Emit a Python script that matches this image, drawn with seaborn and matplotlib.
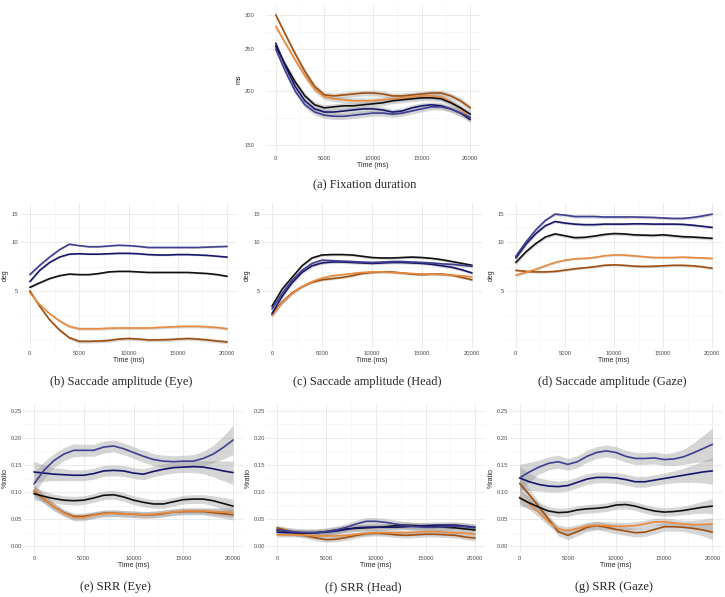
import numpy as np
import pandas as pd
import matplotlib
matplotlib.use("Agg")
import matplotlib.pyplot as plt
import seaborn as sns
from matplotlib.ticker import FixedLocator

# time axis (ms)
TIME = [0, 1000, 2000, 3000, 4000, 5000, 6000, 7000, 8000, 9000, 10000,
        11000, 12000, 13000, 14000, 15000, 16000, 17000, 18000, 19000, 20000]
GROUPS = ["g1", "g2", "g3", "g4", "g5"]
COLORS = ["#a34f0c", "#ea8a3d", "#111111", "#16166c", "#3e3e93"]

# (a) fixation duration (ms)
fix_g1 = [300, 270, 244, 222, 205, 196, 195, 196, 197, 198, 198, 197, 195, 195, 196, 197, 198, 198, 195, 190, 183]
fix_g2 = [282, 258, 236, 217, 202, 194, 192, 191, 190, 190, 190, 191, 192, 193, 194, 195, 195, 194, 189, 182, 173]
fix_g3 = [254, 230, 210, 195, 186, 183, 184, 185, 185, 186, 187, 188, 190, 191, 192, 193, 193, 192, 188, 183, 177]
fix_g4 = [258, 228, 205, 190, 182, 179, 179, 180, 181, 182, 182, 181, 179, 180, 183, 185, 186, 185, 182, 178, 172]
fix_g5 = [250, 222, 200, 186, 179, 176, 175, 175, 176, 177, 178, 178, 177, 178, 180, 182, 184, 184, 182, 178, 174]
fix_se = [3, 3, 3, 3, 3]

# (b) saccade amplitude, eye (deg)
sae_g1 = [5.0, 4.0, 3.3, 2.85, 2.55, 2.42, 2.42, 2.43, 2.45, 2.5, 2.52, 2.5, 2.47, 2.47, 2.48, 2.5, 2.52, 2.5, 2.47, 2.43, 2.4]
sae_g2 = [4.85, 4.1, 3.6, 3.25, 3.0, 2.9, 2.9, 2.9, 2.92, 2.93, 2.93, 2.93, 2.93, 2.95, 2.97, 2.99, 3.0, 3.0, 2.98, 2.95, 2.9]
sae_g3 = [5.25, 5.6, 5.95, 6.2, 6.35, 6.3, 6.3, 6.4, 6.55, 6.6, 6.6, 6.55, 6.5, 6.5, 6.5, 6.5, 6.5, 6.45, 6.4, 6.3, 6.15]
sae_g4 = [5.7, 6.7, 7.5, 8.1, 8.45, 8.5, 8.45, 8.45, 8.5, 8.55, 8.55, 8.5, 8.4, 8.35, 8.35, 8.4, 8.4, 8.35, 8.3, 8.2, 8.1]
sae_g5 = [6.3, 7.2, 8.1, 9.0, 9.75, 9.55, 9.4, 9.4, 9.5, 9.6, 9.55, 9.45, 9.3, 9.3, 9.3, 9.3, 9.3, 9.3, 9.35, 9.4, 9.45]
sae_se = [0.06, 0.06, 0.08, 0.1, 0.12]

# (c) saccade amplitude, head (deg)
sah_g1 = [3.55, 4.25, 4.85, 5.3, 5.65, 5.85, 5.95, 6.05, 6.2, 6.4, 6.5, 6.55, 6.55, 6.45, 6.35, 6.3, 6.35, 6.35, 6.25, 6.05, 5.85]
sah_g2 = [3.5, 4.2, 4.8, 5.3, 5.7, 6.0, 6.2, 6.3, 6.4, 6.5, 6.55, 6.55, 6.5, 6.45, 6.4, 6.35, 6.35, 6.3, 6.25, 6.2, 6.1]
sah_g3 = [4.0, 5.1, 6.05, 7.15, 8.0, 8.35, 8.4, 8.4, 8.35, 8.2, 8.05, 8.0, 8.0, 8.05, 8.1, 8.05, 7.95, 7.8, 7.6, 7.4, 7.2]
sah_g4 = [3.6, 4.6, 5.6, 6.5, 7.15, 7.45, 7.55, 7.55, 7.5, 7.45, 7.4, 7.45, 7.5, 7.5, 7.45, 7.4, 7.3, 7.15, 7.0, 6.75, 6.45]
sah_g5 = [3.85, 4.8, 5.8, 6.7, 7.4, 7.75, 7.7, 7.65, 7.6, 7.55, 7.5, 7.55, 7.6, 7.6, 7.55, 7.5, 7.45, 7.35, 7.3, 7.2, 7.1]
sah_se = [0.1, 0.1, 0.15, 0.15, 0.15]

# (d) saccade amplitude, gaze (deg)
sag_g1 = [6.7, 6.6, 6.55, 6.55, 6.6, 6.72, 6.85, 6.95, 7.05, 7.2, 7.25, 7.2, 7.12, 7.08, 7.1, 7.15, 7.2, 7.2, 7.15, 7.05, 6.9]
sag_g2 = [6.25, 6.5, 6.8, 7.15, 7.5, 7.75, 7.9, 7.95, 8.05, 8.25, 8.35, 8.35, 8.25, 8.15, 8.05, 8.05, 8.05, 8.1, 8.05, 8.0, 7.95]
sag_g3 = [7.5, 8.7, 9.8, 10.8, 11.3, 11.0, 10.7, 10.75, 10.95, 11.2, 11.35, 11.3, 11.15, 11.1, 11.05, 11.15, 11.0, 10.85, 10.8, 10.7, 10.6]
sag_g4 = [8.0, 9.7, 11.3, 12.7, 13.5, 13.2, 13.0, 12.9, 12.9, 13.0, 13.0, 13.0, 13.05, 13.05, 13.0, 13.0, 13.0, 12.95, 12.8, 12.6, 12.4]
sag_g5 = [8.2, 10.0, 11.9, 13.7, 15.0, 14.8, 14.5, 14.5, 14.5, 14.4, 14.4, 14.4, 14.4, 14.35, 14.3, 14.2, 14.1, 14.1, 14.3, 14.6, 15.0]
sag_se = [0.12, 0.12, 0.25, 0.25, 0.3]

# (e) SRR, eye (%ratio)
sre_g1 = [0.102, 0.087, 0.073, 0.062, 0.055, 0.055, 0.058, 0.061, 0.061, 0.060, 0.059, 0.058, 0.058, 0.060, 0.063, 0.064, 0.064, 0.064, 0.062, 0.060, 0.058]
sre_g2 = [0.104, 0.088, 0.073, 0.061, 0.053, 0.053, 0.057, 0.060, 0.061, 0.060, 0.059, 0.058, 0.059, 0.061, 0.063, 0.065, 0.065, 0.065, 0.064, 0.063, 0.063]
sre_g3 = [0.097, 0.092, 0.088, 0.085, 0.084, 0.085, 0.089, 0.094, 0.095, 0.091, 0.085, 0.081, 0.078, 0.078, 0.082, 0.086, 0.087, 0.087, 0.084, 0.079, 0.074]
sre_g4 = [0.137, 0.135, 0.133, 0.132, 0.131, 0.131, 0.134, 0.139, 0.140, 0.139, 0.135, 0.133, 0.138, 0.142, 0.145, 0.146, 0.147, 0.146, 0.143, 0.139, 0.136]
sre_g5 = [0.115, 0.140, 0.158, 0.170, 0.177, 0.177, 0.177, 0.183, 0.185, 0.180, 0.173, 0.166, 0.160, 0.157, 0.156, 0.157, 0.157, 0.162, 0.170, 0.182, 0.196]
sre_se = [
    [0.010, 0.008, 0.007, 0.006, 0.006, 0.006, 0.006, 0.006, 0.006, 0.006, 0.006, 0.006, 0.006, 0.006, 0.006, 0.006, 0.006, 0.006, 0.007, 0.008, 0.010],
    [0.010, 0.008, 0.007, 0.006, 0.006, 0.006, 0.006, 0.006, 0.006, 0.006, 0.006, 0.006, 0.006, 0.006, 0.006, 0.006, 0.006, 0.006, 0.007, 0.008, 0.010],
    [0.012, 0.010, 0.008, 0.008, 0.008, 0.008, 0.008, 0.008, 0.008, 0.008, 0.008, 0.008, 0.008, 0.008, 0.008, 0.008, 0.008, 0.008, 0.009, 0.011, 0.013],
    [0.020, 0.015, 0.012, 0.011, 0.010, 0.010, 0.010, 0.010, 0.010, 0.010, 0.010, 0.010, 0.010, 0.010, 0.010, 0.010, 0.011, 0.012, 0.015, 0.018, 0.022],
    [0.020, 0.016, 0.013, 0.012, 0.012, 0.011, 0.011, 0.011, 0.011, 0.011, 0.011, 0.011, 0.011, 0.011, 0.011, 0.011, 0.012, 0.013, 0.016, 0.021, 0.027],
]

# (f) SRR, head (%ratio)
srh_g1 = [0.034, 0.029, 0.024, 0.019, 0.015, 0.012, 0.013, 0.016, 0.020, 0.023, 0.024, 0.023, 0.021, 0.020, 0.021, 0.022, 0.022, 0.021, 0.020, 0.017, 0.015]
srh_g2 = [0.021, 0.021, 0.021, 0.020, 0.019, 0.019, 0.019, 0.020, 0.022, 0.024, 0.025, 0.025, 0.025, 0.025, 0.026, 0.027, 0.027, 0.026, 0.025, 0.024, 0.022]
srh_g3 = [0.030, 0.027, 0.025, 0.024, 0.025, 0.027, 0.030, 0.032, 0.033, 0.034, 0.035, 0.036, 0.038, 0.039, 0.038, 0.037, 0.036, 0.035, 0.034, 0.032, 0.030]
srh_g4 = [0.026, 0.025, 0.025, 0.025, 0.025, 0.026, 0.028, 0.031, 0.034, 0.035, 0.035, 0.035, 0.035, 0.036, 0.037, 0.038, 0.039, 0.039, 0.039, 0.037, 0.035]
srh_g5 = [0.030, 0.028, 0.026, 0.025, 0.025, 0.027, 0.030, 0.035, 0.041, 0.046, 0.046, 0.044, 0.041, 0.038, 0.036, 0.035, 0.035, 0.036, 0.037, 0.036, 0.034]
srh_se = [0.005, 0.004, 0.006, 0.006, 0.007]

# (g) SRR, gaze (%ratio)
srg_g1 = [0.116, 0.095, 0.073, 0.050, 0.027, 0.020, 0.027, 0.035, 0.038, 0.035, 0.031, 0.028, 0.025, 0.026, 0.031, 0.036, 0.036, 0.035, 0.033, 0.030, 0.026]
srg_g2 = [0.091, 0.078, 0.062, 0.045, 0.032, 0.029, 0.033, 0.037, 0.039, 0.038, 0.037, 0.037, 0.038, 0.041, 0.045, 0.045, 0.043, 0.041, 0.040, 0.040, 0.041]
srg_g3 = [0.089, 0.080, 0.072, 0.065, 0.062, 0.063, 0.067, 0.069, 0.070, 0.072, 0.076, 0.077, 0.074, 0.069, 0.065, 0.063, 0.064, 0.066, 0.069, 0.072, 0.074]
srg_g4 = [0.126, 0.119, 0.114, 0.111, 0.110, 0.112, 0.118, 0.124, 0.127, 0.127, 0.126, 0.123, 0.119, 0.119, 0.122, 0.125, 0.128, 0.131, 0.134, 0.137, 0.139]
srg_g5 = [0.126, 0.137, 0.146, 0.153, 0.156, 0.151, 0.156, 0.166, 0.173, 0.176, 0.173, 0.166, 0.162, 0.162, 0.163, 0.160, 0.161, 0.165, 0.172, 0.180, 0.188]
srg_se = [
    [0.014, 0.011, 0.009, 0.008, 0.008, 0.008, 0.008, 0.008, 0.008, 0.008, 0.008, 0.008, 0.008, 0.008, 0.008, 0.008, 0.008, 0.008, 0.009, 0.011, 0.014],
    [0.012, 0.010, 0.008, 0.007, 0.007, 0.007, 0.007, 0.007, 0.007, 0.007, 0.007, 0.007, 0.007, 0.007, 0.007, 0.007, 0.007, 0.007, 0.008, 0.010, 0.012],
    [0.014, 0.011, 0.009, 0.008, 0.008, 0.008, 0.008, 0.008, 0.008, 0.008, 0.008, 0.008, 0.008, 0.008, 0.008, 0.008, 0.008, 0.008, 0.009, 0.011, 0.014],
    [0.022, 0.016, 0.012, 0.011, 0.010, 0.010, 0.010, 0.010, 0.010, 0.010, 0.010, 0.010, 0.010, 0.010, 0.010, 0.010, 0.011, 0.013, 0.016, 0.020, 0.025],
    [0.025, 0.018, 0.013, 0.012, 0.012, 0.011, 0.011, 0.011, 0.011, 0.011, 0.011, 0.011, 0.011, 0.011, 0.011, 0.011, 0.012, 0.014, 0.018, 0.024, 0.030],
]

LOG_DEG_TICKS = [5, 10, 15]
LOG_DEG_MINOR = [2.5, 3.54, 7.07, 12.25]
SRR_TICKS = [0.0, 0.05, 0.10, 0.15, 0.20, 0.25]
SRR_MINOR = [0.025, 0.075, 0.125, 0.175, 0.225]

W, H = 725, 597

panels = [
    dict(series=[fix_g1, fix_g2, fix_g3, fix_g4, fix_g5], se=fix_se, log=True, ylim=(144, 316),
         ticks=[150, 200, 250, 300], minor=[173, 223, 274], ylabel="ms",
         box=(266, 5, 480, 153), cap="(a) Fixation duration", cap_xy=(365, 184), pad=8),
    dict(series=[sae_g1, sae_g2, sae_g3, sae_g4, sae_g5], se=sae_se, log=True, ylim=(2.2, 17.6),
         ticks=LOG_DEG_TICKS, minor=LOG_DEG_MINOR, ylabel="deg",
         box=(20, 203, 237, 348), cap="(b) Saccade amplitude (Eye)", cap_xy=(121, 382), pad=1.5),
    dict(series=[sah_g1, sah_g2, sah_g3, sah_g4, sah_g5], se=sah_se, log=True, ylim=(2.2, 17.6),
         ticks=LOG_DEG_TICKS, minor=LOG_DEG_MINOR, ylabel="deg",
         box=(262, 203, 482, 348), cap="(c) Saccade amplitude (Head)", cap_xy=(367, 382), pad=1.5),
    dict(series=[sag_g1, sag_g2, sag_g3, sag_g4, sag_g5], se=sag_se, log=True, ylim=(2.2, 17.6),
         ticks=LOG_DEG_TICKS, minor=LOG_DEG_MINOR, ylabel="deg",
         box=(506, 203, 722, 348), cap="(d) Saccade amplitude (Gaze)", cap_xy=(612, 382), pad=1.5),
    dict(series=[sre_g1, sre_g2, sre_g3, sre_g4, sre_g5], se=sre_se, log=False, ylim=(-0.0125, 0.2625),
         ticks=SRR_TICKS, minor=SRR_MINOR, ylabel="%ratio",
         box=(24, 404, 243, 553), cap="(e) SRR (Eye)", cap_xy=(115, 587), pad=1.5),
    dict(series=[srh_g1, srh_g2, srh_g3, srh_g4, srh_g5], se=srh_se, log=False, ylim=(-0.0125, 0.2625),
         ticks=SRR_TICKS, minor=SRR_MINOR, ylabel="%ratio",
         box=(267, 404, 485, 553), cap="(f) SRR (Head)", cap_xy=(363, 587), pad=1.5),
    dict(series=[srg_g1, srg_g2, srg_g3, srg_g4, srg_g5], se=srg_se, log=False, ylim=(-0.0125, 0.2625),
         ticks=SRR_TICKS, minor=SRR_MINOR, ylabel="%ratio",
         box=(510, 404, 722, 553), cap="(g) SRR (Gaze)", cap_xy=(614, 587), pad=1.5),
]


def fmt_tick(v, log):
    if log:
        return f"{v:g}"
    return f"{v:.2f}"


def draw_panel(fig, p):
    l, t, r, b = p["box"]
    ax = fig.add_axes([l / W, 1 - b / H, (r - l) / W, (b - t) / H])
    rows = []
    for g, vals in zip(GROUPS, p["series"]):
        rows.append(pd.DataFrame({"time": TIME, "value": vals, "group": g}))
    df = pd.concat(rows, ignore_index=True)

    # confidence ribbons first
    for g, vals, se in zip(GROUPS, p["series"], p["se"]):
        v = np.asarray(vals, float)
        s = np.broadcast_to(np.asarray(se, float), v.shape)
        ax.fill_between(TIME, v - s, v + s, color="#999999", alpha=0.4, lw=0, zorder=2)

    sns.lineplot(data=df, x="time", y="value", hue="group", palette=dict(zip(GROUPS, COLORS)),
                 estimator=None, sort=False, legend=False, lw=1.2, ax=ax, zorder=3)

    if p["log"]:
        ax.set_yscale("log")
    ax.set_ylim(*p["ylim"])
    ax.set_xlim(-1000, 21000)
    ax.yaxis.set_major_locator(FixedLocator(p["ticks"]))
    ax.yaxis.set_minor_locator(FixedLocator(p["minor"]))
    ax.set_yticklabels([fmt_tick(v, p["log"]) for v in p["ticks"]])
    ax.yaxis.set_minor_formatter(plt.NullFormatter())
    ax.xaxis.set_major_locator(FixedLocator([0, 5000, 10000, 15000, 20000]))
    ax.xaxis.set_minor_locator(FixedLocator([2500, 7500, 12500, 17500]))
    ax.set_xticklabels(["0", "5000", "10000", "15000", "20000"])

    ax.grid(which="major", color="#ebebeb", lw=0.7, zorder=0)
    ax.grid(which="minor", color="#f4f4f4", lw=0.5, zorder=0)
    ax.set_axisbelow(True)
    for sp in ax.spines.values():
        sp.set_visible(False)
    ax.tick_params(which="both", length=0, labelsize=4.2, labelcolor="#4d4d4d")
    ax.tick_params(axis="y", pad=p["pad"])
    ax.tick_params(axis="x", pad=2)
    ax.set_xlabel("Time (ms)", fontsize=5, labelpad=1)
    ax.set_ylabel(p["ylabel"], fontsize=5, labelpad=1.5)

    cx, cy = p["cap_xy"]
    fig.text(cx / W, 1 - cy / H, p["cap"], ha="center", va="center",
             fontsize=9, family=["Liberation Serif", "DejaVu Serif"])
    return ax


sns.set_theme(style="white")
plt.rcParams["font.family"] = ["Liberation Sans", "DejaVu Sans"]

fig = plt.figure(figsize=(W / 100, H / 100), dpi=100)
fig.patch.set_facecolor("white")
for p in panels:
    draw_panel(fig, p)

fig.savefig("out.png", dpi=100, facecolor="white")
